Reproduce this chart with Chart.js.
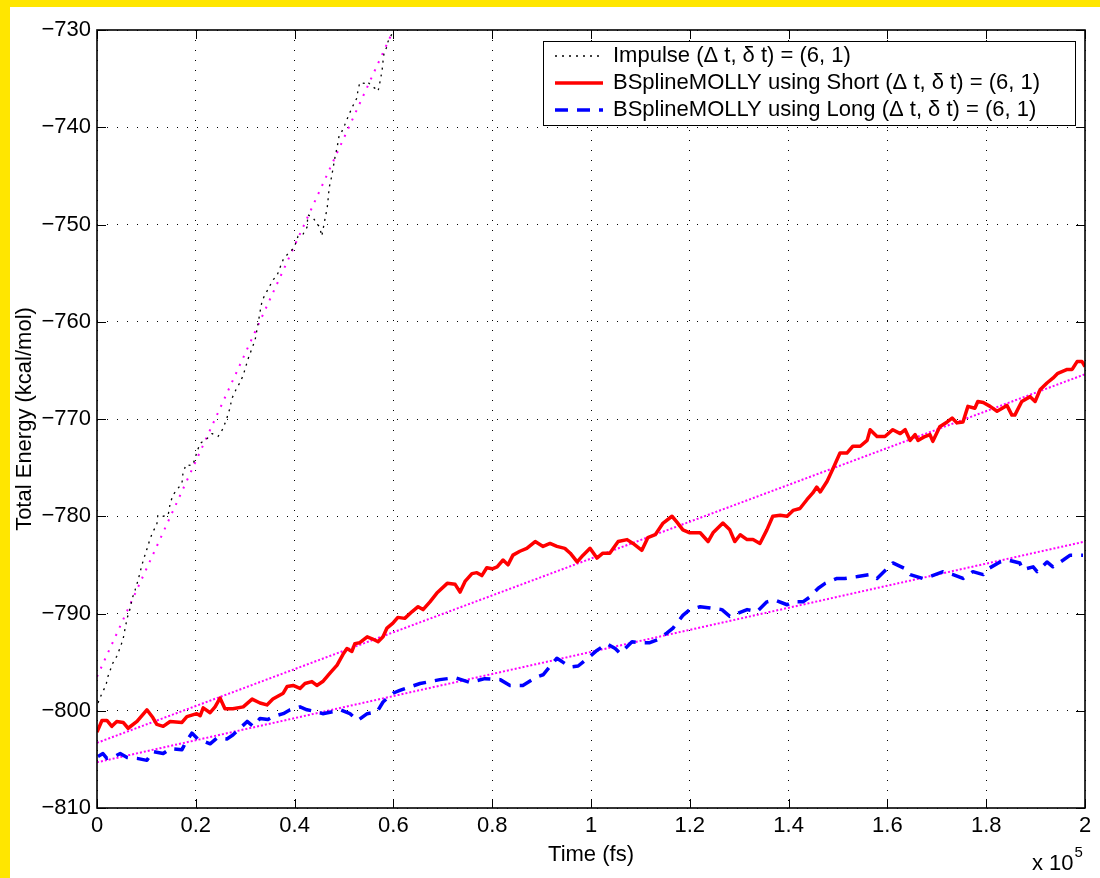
<!DOCTYPE html>
<html>
<head>
<meta charset="utf-8">
<title>Total Energy vs Time</title>
<script src="https://cdn.jsdelivr.net/npm/chart.js@4.4.1/dist/chart.umd.min.js"></script>
<style>
  html, body { margin: 0; padding: 0; background: #FFE600; }
  #wrap { position: absolute; left: 10px; top: 7px; width: 1090px; height: 871px; background: #fff; }
  canvas { display: block; }
</style>
</head>
<body>
<div id="wrap"><canvas id="chart" width="1090" height="871"></canvas></div>
<script>
const FONT = "'Liberation Sans', Arial, Helvetica, sans-serif";
const FS = 22;

// time axis in units of 1e5 fs (see "x 10^5" label)
const xTicks = [0, 0.2, 0.4, 0.6, 0.8, 1, 1.2, 1.4, 1.6, 1.8, 2];
const yTicks = [-810, -800, -790, -780, -770, -760, -750, -740, -730];

// Impulse (black dotted)
const impulseT = [
  0.002,0.010,0.018,0.022,0.032,0.040,0.047,0.053,0.057,0.061,
  0.067,0.071,0.077,0.083,0.091,0.097,0.101,0.107,0.113,0.121,
  0.123,0.134,0.144,0.148,0.154,0.166,0.172,0.174,0.180,0.192,
  0.198,0.202,0.209,0.223,0.233,0.245,0.255,0.263,0.269,0.273,
  0.283,0.289,0.296,0.306,0.314,0.320,0.326,0.330,0.334,0.340,
  0.346,0.356,0.364,0.370,0.377,0.385,0.395,0.401,0.407,0.417,
  0.425,0.427,0.437,0.451,0.455,0.462,0.466,0.468,0.470,0.474,
  0.478,0.482,0.486,0.490,0.496,0.502,0.510,0.518,0.526,0.528,
  0.532,0.543,0.547,0.557,0.563,0.569,0.573,0.577,0.579,0.581,
  0.587,0.589,0.597,0.599];
const impulseE = [
  -799.2,-798.2,-797.4,-796.5,-795.1,-794.4,-793.5,-792.6,-791.5,-790.5,
  -789.5,-788.5,-787.6,-786.6,-785.0,-784.0,-783.4,-782.4,-781.6,-780.9,
  -779.9,-780.0,-779.9,-778.7,-777.8,-777.0,-776.6,-775.6,-774.7,-774.8,
  -774.2,-773.4,-772.5,-772.0,-771.5,-771.8,-771.0,-769.9,-768.9,-767.9,
  -766.8,-766.3,-765.5,-763.8,-762.7,-761.9,-760.2,-759.0,-757.9,-757.2,
  -756.7,-755.7,-755.3,-754.5,-753.6,-753.1,-752.6,-752.1,-751.2,-751.0,
  -750.3,-749.0,-749.3,-750.3,-751.2,-749.3,-748.3,-747.3,-746.2,-745.3,
  -744.2,-743.0,-742.1,-740.9,-740.4,-739.7,-738.7,-737.8,-737.0,-736.3,
  -735.4,-735.5,-735.3,-735.8,-736.0,-736.3,-735.3,-734.2,-733.2,-732.4,
  -731.7,-731.2,-730.4,-729.8];

// BSplineMOLLY Short (red)
const shortT = [
  0.000,0.010,0.020,0.030,0.040,0.053,0.063,0.081,0.101,0.113,
  0.121,0.134,0.148,0.172,0.182,0.202,0.209,0.215,0.229,0.239,
  0.249,0.259,0.275,0.296,0.314,0.330,0.344,0.356,0.377,0.385,
  0.397,0.411,0.421,0.435,0.445,0.457,0.472,0.486,0.498,0.506,
  0.516,0.522,0.532,0.547,0.557,0.569,0.579,0.587,0.599,0.609,
  0.623,0.638,0.650,0.660,0.674,0.688,0.709,0.725,0.735,0.745,
  0.759,0.769,0.779,0.789,0.800,0.810,0.822,0.832,0.842,0.856,
  0.870,0.887,0.903,0.917,0.931,0.947,0.958,0.972,0.984,0.998,
  1.012,1.024,1.038,1.055,1.073,1.085,1.103,1.115,1.130,1.146,
  1.164,1.174,1.186,1.200,1.221,1.237,1.247,1.267,1.281,1.291,
  1.302,1.316,1.328,1.342,1.356,1.368,1.383,1.397,1.409,1.423,
  1.437,1.449,1.457,1.464,1.478,1.490,1.504,1.518,1.530,1.545,
  1.559,1.565,1.579,1.595,1.611,1.626,1.636,1.646,1.656,1.662,
  1.676,1.686,1.692,1.706,1.721,1.731,1.741,1.753,1.763,1.777,
  1.783,1.794,1.808,1.822,1.842,1.852,1.858,1.872,1.889,1.899,
  1.909,1.923,1.935,1.945,1.964,1.974,1.984,1.994,2.000];
const shortE = [
  -802.2,-801.0,-801.0,-801.6,-801.1,-801.2,-801.8,-801.1,-799.9,-800.7,
  -801.4,-801.6,-801.1,-801.2,-800.6,-800.3,-800.5,-799.7,-800.2,-799.6,
  -798.7,-799.8,-799.8,-799.6,-798.8,-799.2,-799.4,-798.8,-798.2,-797.5,
  -797.4,-797.7,-797.2,-797.0,-797.4,-797.0,-796.1,-795.3,-794.2,-793.6,
  -793.9,-793.1,-793.0,-792.4,-792.6,-792.9,-792.4,-791.5,-791.0,-790.4,
  -790.5,-789.8,-789.3,-789.6,-788.8,-787.9,-786.9,-787.0,-787.8,-786.7,
  -785.9,-785.8,-786.1,-785.3,-785.4,-785.2,-784.5,-785.0,-784.0,-783.6,
  -783.3,-782.6,-783.1,-782.8,-783.1,-783.3,-783.8,-784.7,-784.0,-783.3,
  -784.3,-783.8,-783.8,-782.6,-782.4,-782.8,-783.5,-782.2,-781.9,-780.7,
  -780.0,-780.6,-781.4,-781.7,-781.7,-782.6,-781.7,-780.7,-781.4,-782.6,
  -781.9,-782.4,-782.4,-782.8,-781.4,-780.0,-779.9,-780.0,-779.4,-779.2,
  -778.3,-777.6,-777.0,-777.5,-776.4,-775.1,-773.5,-773.5,-772.8,-772.8,
  -772.2,-771.1,-771.8,-771.8,-771.1,-771.5,-771.1,-772.2,-771.6,-772.2,
  -771.8,-771.6,-772.3,-770.8,-770.3,-769.9,-770.4,-770.3,-768.7,-768.9,
  -768.2,-768.3,-768.7,-769.2,-768.6,-769.6,-769.6,-768.2,-767.7,-768.2,
  -767.0,-766.3,-765.8,-765.3,-764.9,-764.9,-764.1,-764.1,-764.6];

// BSplineMOLLY Long (blue dashed)
const longT = [
  0.002,0.012,0.020,0.036,0.047,0.061,0.081,0.101,0.113,0.134,
  0.148,0.172,0.178,0.192,0.204,0.229,0.243,0.263,0.275,0.304,
  0.316,0.330,0.346,0.356,0.377,0.391,0.411,0.425,0.445,0.457,
  0.478,0.492,0.512,0.528,0.547,0.567,0.579,0.599,0.613,0.654,
  0.694,0.725,0.755,0.785,0.816,0.836,0.862,0.891,0.903,0.931,
  0.958,0.974,0.998,1.012,1.032,1.049,1.059,1.083,1.099,1.119,
  1.134,1.154,1.166,1.186,1.200,1.221,1.237,1.265,1.281,1.296,
  1.316,1.336,1.356,1.372,1.397,1.409,1.429,1.443,1.460,1.474,
  1.498,1.514,1.540,1.565,1.579,1.599,1.611,1.636,1.646,1.672,
  1.686,1.713,1.733,1.753,1.773,1.794,1.804,1.828,1.844,1.868,
  1.874,1.895,1.903,1.923,1.935,1.956,1.970,1.996];
const longE = [
  -804.7,-804.4,-804.9,-804.7,-804.4,-804.8,-804.9,-805.1,-804.2,-804.4,
  -803.9,-804.0,-803.4,-802.3,-802.9,-803.4,-802.8,-802.9,-802.5,-801.1,
  -801.6,-800.8,-800.9,-800.6,-800.3,-799.9,-799.6,-799.9,-800.1,-800.3,
  -800.1,-799.9,-800.3,-801.0,-800.3,-800.1,-799.1,-798.2,-797.9,-797.2,
  -796.8,-796.6,-797.1,-796.7,-796.8,-797.4,-797.4,-796.5,-796.3,-794.6,
  -795.5,-795.4,-794.4,-793.8,-793.1,-793.6,-794.1,-792.9,-793.0,-793.0,
  -792.7,-792.0,-791.5,-790.2,-789.6,-789.3,-789.4,-789.6,-790.3,-790.0,
  -789.6,-789.8,-788.8,-788.6,-789.1,-788.8,-788.8,-788.3,-787.4,-786.9,
  -786.4,-786.4,-786.2,-786.0,-786.4,-785.4,-784.8,-785.4,-786.0,-786.4,
  -786.2,-785.7,-786.0,-786.4,-785.7,-786.0,-785.4,-784.7,-784.5,-784.8,
  -785.5,-785.2,-785.7,-784.7,-785.2,-784.5,-784.0,-784.0];

// linear fits (magenta dotted)
const fitImpulseT = [0, 0.6],  fitImpulseE = [-796.5, -730.0];
const fitShortT   = [0, 2],    fitShortE   = [-803.3, -765.4];
const fitLongT    = [0, 2],    fitLongE    = [-805.3, -782.6];

const pts = (t, e) => t.map((x, i) => ({ x, y: e[i] }));
const minus = (v) => String(v).replace("-", "\u2212");

function series(label, t, e, color, width, dash, inLegend) {
  return { label, data: pts(t, e), borderColor: color, backgroundColor: color,
           borderWidth: width, borderDash: dash, pointRadius: 0, tension: 0,
           borderJoinStyle: "round", fill: false, inLegend };
}

const datasets = [
  series("Impulse (\u0394 t, \u03b4 t) = (6, 1)", impulseT, impulseE, "#000000", 1.3, [2, 5], true),
  series("BSplineMOLLY using Short (\u0394 t, \u03b4 t) = (6, 1)", shortT, shortE, "#ff0000", 3.5, [], true),
  series("BSplineMOLLY using Long (\u0394 t, \u03b4 t) = (6, 1)", longT, longE, "#0000ff", 3.5, [13, 9], true),
  series("fit impulse", fitImpulseT, fitImpulseE, "#ff00ff", 2, [2, 7], false),
  series("fit short", fitShortT, fitShortE, "#ff00ff", 2, [2, 2], false),
  series("fit long", fitLongT, fitLongE, "#ff00ff", 2, [2, 2], false)
];

// MATLAB style box, inward ticks, legend and exponent label
const frame = {
  id: "frame",
  afterDraw(chart) {
    const { ctx, chartArea: a, scales: { x, y } } = chart;
    const TL = 9;
    ctx.save();
    ctx.strokeStyle = "#000";
    ctx.lineWidth = 1;
    ctx.beginPath();
    xTicks.forEach((v) => {
      const p = Math.round(x.getPixelForValue(v)) + 0.5;
      ctx.moveTo(p, a.bottom); ctx.lineTo(p, a.bottom - TL);
      ctx.moveTo(p, a.top);    ctx.lineTo(p, a.top + TL);
    });
    yTicks.forEach((v) => {
      const p = Math.round(y.getPixelForValue(v)) + 0.5;
      ctx.moveTo(a.left, p);  ctx.lineTo(a.left + TL, p);
      ctx.moveTo(a.right, p); ctx.lineTo(a.right - TL, p);
    });
    ctx.stroke();
    ctx.lineWidth = 1.6;
    ctx.strokeRect(a.left, a.top, a.right - a.left, a.bottom - a.top);

    // legend
    const box = { l: 533, t: 34, r: 1065, b: 118 };
    ctx.fillStyle = "#fff";
    ctx.fillRect(box.l, box.t, box.r - box.l, box.b - box.t);
    ctx.lineWidth = 1;
    ctx.strokeRect(box.l + 0.5, box.t + 0.5, box.r - box.l, box.b - box.t);
    ctx.font = FS + "px " + FONT;
    ctx.textBaseline = "middle";
    ctx.textAlign = "left";
    let row = 0;
    chart.data.datasets.forEach((ds) => {
      if (!ds.inLegend) return;
      const yy = box.t + 15 + row * 27;
      ctx.save();
      ctx.strokeStyle = ds.borderColor;
      ctx.lineWidth = ds.borderWidth;
      ctx.setLineDash(ds.borderDash);
      ctx.beginPath();
      ctx.moveTo(box.l + 12, yy);
      ctx.lineTo(box.l + 60, yy);
      ctx.stroke();
      ctx.restore();
      ctx.fillStyle = "#000";
      ctx.fillText(ds.label, box.l + 70, yy);
      row++;
    });

    // x 10^5 under the right end of the time axis
    ctx.fillStyle = "#000";
    ctx.font = FS + "px " + FONT;
    const bx = 1022;
    ctx.fillText("x 10", bx, 857);
    const w = ctx.measureText("x 10").width;
    ctx.font = "15px " + FONT;
    ctx.fillText("5", bx + w + 1, 846);
    ctx.restore();
  }
};

const gridOpts = { color: "#000", lineWidth: 1, drawTicks: false };
const tickFont = { family: FONT, size: FS };

new Chart(document.getElementById("chart").getContext("2d"), {
  type: "line",
  data: { datasets },
  plugins: [frame],
  options: {
    responsive: false,
    animation: false,
    events: [],
    layout: { padding: { top: 23, right: 15, left: 0, bottom: 0 } },
    plugins: { legend: { display: false }, tooltip: { enabled: false } },
    scales: {
      x: {
        type: "linear", min: 0, max: 2,
        afterBuildTicks: (s) => { s.ticks = xTicks.map((v) => ({ value: v })); },
        afterFit: (s) => { s.height = 70; },
        grid: gridOpts,
        border: { display: false, dash: [1, 9] },
        ticks: { color: "#000", font: tickFont, padding: 5, maxRotation: 0,
                 callback: (v) => String(+v.toFixed(1)) },
        title: { display: true, text: "Time (fs)", color: "#000", font: tickFont,
                 padding: { top: 0, bottom: 10 } }
      },
      y: {
        type: "linear", min: -810, max: -730,
        afterBuildTicks: (s) => { s.ticks = yTicks.map((v) => ({ value: v })); },
        afterFit: (s) => { s.width = 87; },
        grid: gridOpts,
        border: { display: false, dash: [1, 9] },
        ticks: { color: "#000", font: tickFont, padding: 6, callback: (v) => minus(v) },
        title: { display: true, text: "Total Energy (kcal/mol)", color: "#000", font: tickFont,
                 padding: { top: 2, bottom: 0 } }
      }
    }
  }
});
</script>
</body>
</html>
